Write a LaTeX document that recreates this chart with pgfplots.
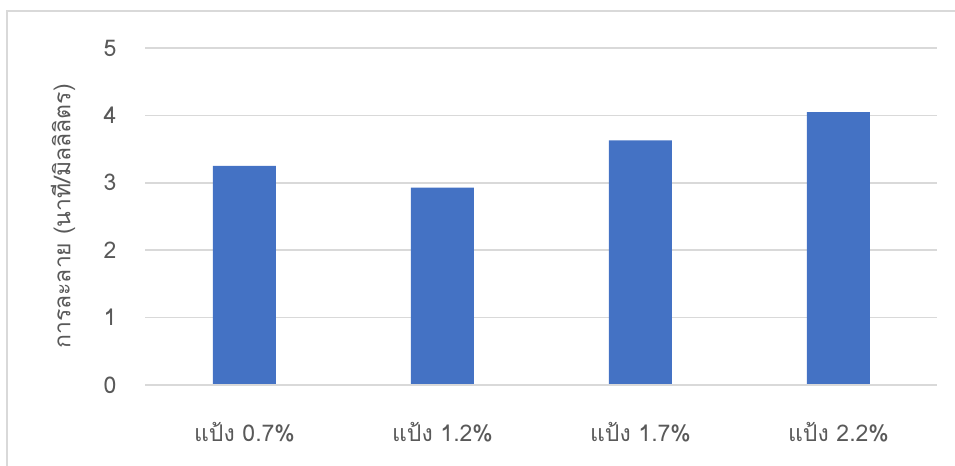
\documentclass[border=0pt]{standalone}
\usepackage{pgfplots}
\pgfplotsset{compat=1.18}
\usepackage{fontspec}
\setmainfont{Loma}[Script=Thai]
\definecolor{barblue}{HTML}{4472C4}
\definecolor{gridgray}{HTML}{D9D9D9}
\definecolor{textgray}{HTML}{595959}
\begin{document}
\begin{tikzpicture}[x=0.5pt,y=0.5pt]
  \useasboundingbox (0,0) rectangle (955,466);
  % chart frame (left and top edges)
  \draw[gridgray, line width=0.6pt] (7,0) -- (7,455) -- (955,455);
  \begin{axis}[
    at={(72.75pt,40.5pt)}, anchor=south west,
    scale only axis,
    width=396pt, height=168.5pt,
    ymin=0, ymax=5,
    xmin=-0.5, xmax=3.5,
    ytick={0,1,2,3,4,5},
    xtick={0,1,2,3},
    xticklabels={แป้ง 0.7\%, แป้ง 1.2\%, แป้ง 1.7\%, แป้ง 2.2\%},
    axis line style={draw=none},
    ymajorgrids,
    grid style={gridgray, line width=0.8pt},
    major tick length=0pt,
    tick label style={font=\fontsize{11.5}{13}\selectfont, text=textgray},
    /pgf/number format/assume math mode=true,
    yticklabel style={anchor=east, xshift=-11pt},
    xticklabel style={anchor=center, yshift=-23.5pt},
    ylabel={การละลาย (นาที/มิลลิลิตร)},
    ylabel style={font=\fontsize{11.5}{13}\selectfont, text=textgray,
      at={(axis description cs:-0.104,0.5)}, anchor=center},
  ]
    \addplot[ybar, bar width=31.5pt, fill=barblue, draw=none]
      coordinates {(0,3.25) (1,2.93) (2,3.63) (3,4.05)};
    \draw[gridgray, line width=0.8pt] (axis cs:-0.5,0) -- (axis cs:3.5,0);
  \end{axis}
\end{tikzpicture}
\end{document}
